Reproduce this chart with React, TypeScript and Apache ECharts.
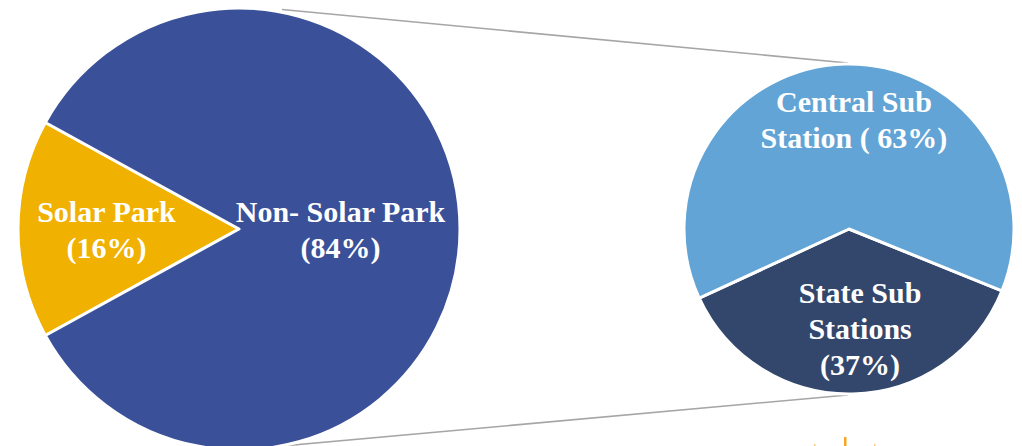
import React, { useEffect, useRef } from "react";
import * as echarts from "echarts";

const leftNames = ["Solar Park", "Non- Solar Park"];
const leftValues = [16, 84];
const leftLabels = ["Solar Park\n(16%)", "Non- Solar Park\n(84%)"];

const rightNames = ["State Sub Stations", "Central Sub Station"];
const rightValues = [37, 63];
const rightLabels = ["State Sub\nStations\n(37%)", "Central Sub\nStation ( 63%)"];

const leftColors = ["#F0B100", "#3A5199"];
const rightColors = ["#33476C", "#62A4D5"];

export default function App() {
  const ref = useRef<HTMLDivElement>(null);
  useEffect(() => {
    document.body.style.margin = "0";
    if (!ref.current) return;
    const chart = echarts.init(ref.current, null, { renderer: "svg" });
    const labelStyle = {
      show: true,
      position: "inside",
      color: "#ffffff",
      fontFamily: "Liberation Serif",
      fontWeight: "bold",
      fontSize: 30,
      lineHeight: 36,
    };
    const leftShift = [
      [-19, 0],
      [-12, 0],
    ];
    const rightShift = [
      [9, 14],
      [7, -24],
    ];
    chart.setOption({
      animation: false,
      backgroundColor: "#ffffff",
      graphic: [
        {
          type: "line",
          z: 0,
          shape: { x1: 282, y1: 9.5, x2: 848, y2: 63 },
          style: { stroke: "#A6A6A6", lineWidth: 1.6 },
        },
        {
          type: "line",
          z: 0,
          shape: { x1: 260, y1: 448, x2: 848, y2: 395 },
          style: { stroke: "#A6A6A6", lineWidth: 1.6 },
        },
        {
          type: "rect",
          shape: { x: 844, y: 437, width: 2.5, height: 10 },
          style: { fill: "#F5A623" },
        },
        {
          type: "rect",
          shape: { x: 814, y: 444, width: 1.5, height: 3 },
          style: { fill: "#F8C780" },
        },
        {
          type: "rect",
          shape: { x: 874, y: 444, width: 1.5, height: 3 },
          style: { fill: "#F8C780" },
        },
      ],
      series: [
        {
          type: "pie",
          center: [239, 229],
          radius: 221,
          startAngle: 208.8,
          clockwise: true,
          z: 2,
          itemStyle: { borderColor: "#ffffff", borderWidth: 3 },
          label: { ...labelStyle, formatter: (p: any) => leftLabels[p.dataIndex] },
          labelLine: { show: false },
          labelLayout: (p: any) => ({ dx: leftShift[p.dataIndex][0], dy: leftShift[p.dataIndex][1] }),
          emphasis: { disabled: true },
          data: leftNames.map((n, i) => ({
            name: n,
            value: leftValues[i],
            itemStyle: { color: leftColors[i] },
          })),
        },
        {
          type: "pie",
          center: [849, 229],
          radius: 165,
          startAngle: -22,
          clockwise: true,
          z: 2,
          itemStyle: { borderColor: "#ffffff", borderWidth: 3 },
          label: { ...labelStyle, formatter: (p: any) => rightLabels[p.dataIndex] },
          labelLine: { show: false },
          labelLayout: (p: any) => ({ dx: rightShift[p.dataIndex][0], dy: rightShift[p.dataIndex][1] }),
          emphasis: { disabled: true },
          data: rightNames.map((n, i) => ({
            name: n,
            value: rightValues[i],
            itemStyle: { color: rightColors[i] },
          })),
        },
      ],
    });
    return () => chart.dispose();
  }, []);
  return <div ref={ref} style={{ width: 1022, height: 446 }} />;
}
